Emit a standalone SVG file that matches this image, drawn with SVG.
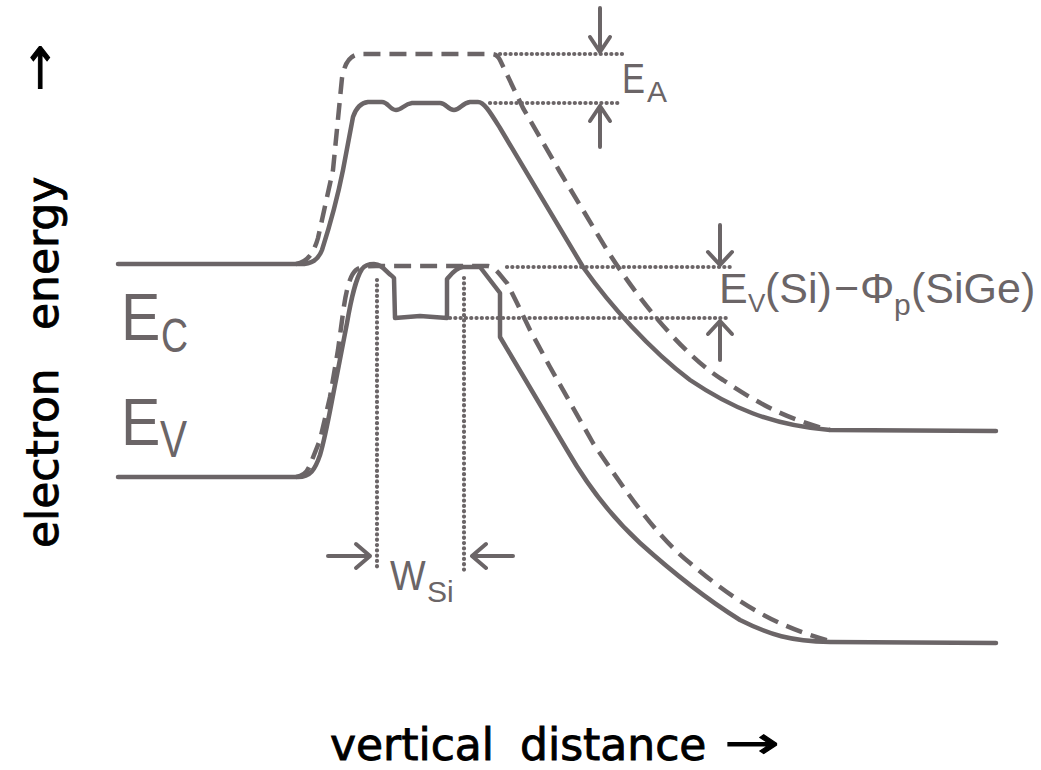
<svg xmlns="http://www.w3.org/2000/svg" width="1041" height="770" viewBox="0 0 1041 770">
<style>
.solid{fill:none;stroke:#6b6567;stroke-width:4.5;stroke-linejoin:round;stroke-linecap:round}
.dash{fill:none;stroke:#6b6567;stroke-width:4.5;stroke-dasharray:17 9;stroke-linecap:butt;stroke-linejoin:round}
.dot{fill:none;stroke:#6b6567;stroke-width:4.2;stroke-dasharray:0.1 5.2;stroke-linecap:round}
.arr{fill:none;stroke:#6b6567;stroke-width:4;stroke-linecap:round;stroke-linejoin:round}
.lbl{font-family:"Liberation Sans","DejaVu Sans",sans-serif;fill:#6b6567}
.ax{font-family:"DejaVu Sans","Liberation Sans",sans-serif;fill:#000;stroke:#000;stroke-width:0.9;font-size:44px}
.axa{font-family:"DejaVu Sans","Liberation Sans",sans-serif;fill:#000;stroke:#000;stroke-width:1;font-size:44px}
</style>
<rect width="1041" height="770" fill="#fff"/>
<g id="conduction-band">
<path class="solid" d="M118,264 L300,264 C312,264 318,260 322,250 C330,225 338,195 343,170 L353,117 C356,108 360,103 368,102 L382,102 C388,102 390,110 396,110 C402,110 404,104 412,103 L440,103 C446,103 448,110 454,110 C460,110 462,103 470,102 L478,102 C484,102 490,112 500,128 L583,267 C610,305 650,350 690,380 C730,407 770,425 830,430 L996,431"/>
<path class="dash" d="M296,264 C308,262 314,252 318,238 L333,170 L342,78 C345,62 350,55 360,54 L490,54 C496,54 498,56 500,60 L523,108 L560,172 L607,250 C645,310 690,360 723,380 C760,405 790,420 830,430"/>
</g>
<g id="valence-band">
<path class="solid" d="M118,477 L298,477 C310,477 315,470 320,455 C326,435 330,410 336,380 L347,323 C351,300 355,280 362,269 C365,265 368,264 374,264 C382,264 386,272 392,276 L394,278 L395,318 L420,316 L447,318 L447,279 C450,276 455,268 463,267 L480,267 L500,293 L500,337 L567,450 C590,490 615,520 640,543 C670,570 700,595 740,620 C770,635 790,641 830,642 L996,643"/>
<path class="dash" d="M296,477 C305,476 308,470 310,465 L320,440 L330,397 L338,350 L343,313 C346,290 350,275 356,270 C360,267 366,266 376,266 L488,266 C496,267 502,278 507,283 L517,303 L530,330 L550,367 L593,443 C625,490 655,535 690,563 C730,597 770,625 830,641"/>
</g>
<g id="connectors">
<path class="dot" d="M500,54 L622,54"/>
<path class="dot" d="M490,103 L620,103"/>
<path class="dot" d="M507,267 L730,267"/>
<path class="dot" d="M450,318 L730,318"/>
<path class="dot" d="M377,280 L377,570"/>
<path class="dot" d="M464,278 L464,570"/>
<path class="arr" d="M600,8 L600,52 M590,37 L600,52 L610,37"/>
<path class="arr" d="M600,147 L600,106 M590,121 L600,106 L610,121"/>
<path class="arr" d="M720,225 L720,265 M708,252 L720,265 L732,252"/>
<path class="arr" d="M720,360 L720,321 M708,334 L720,321 L732,334"/>
<path class="arr" d="M328,556 L370,556 M356,544 L370,556 L356,568"/>
<path class="arr" d="M513,556 L472,556 M486,544 L472,556 L486,568"/>
</g>
<g id="label-EA">
<text class="lbl" transform="translate(622,93) scale(0.8,1)" font-size="43">E</text>
<text class="lbl" x="647" y="102" font-size="30">A</text>
</g>
<g id="label-offset">
<text class="lbl" x="719" y="303" font-size="43">E</text>
<text class="lbl" x="748" y="312" font-size="26">V</text>
<text class="lbl" x="765" y="303" font-size="43">(Si)</text>
<text class="lbl" x="834" y="303" font-size="43">−</text>
<text class="lbl" x="860" y="303" font-size="43">Φ</text>
<text class="lbl" x="894" y="315" font-size="30">p</text>
<text class="lbl" x="911" y="303" font-size="43">(SiGe)</text>
</g>
<g id="label-EC">
<text class="lbl" transform="translate(121,340) scale(0.88,1)" font-size="67">E</text>
<text class="lbl" transform="translate(161,352) scale(0.78,1)" font-size="48">C</text>
</g>
<g id="label-EV">
<text class="lbl" transform="translate(121,445) scale(0.88,1)" font-size="67">E</text>
<text class="lbl" transform="translate(160,457) scale(0.78,1)" font-size="52">V</text>
</g>
<g id="label-WSi">
<text class="lbl" transform="translate(390,590) scale(0.9,1)" font-size="42">W</text>
<text class="lbl" x="427" y="602" font-size="30">Si</text>
</g>
<g id="axis-labels">
<text class="ax" x="330" y="760">vertical</text>
<text class="ax" x="520" y="760">distance</text>
<text class="axa" transform="translate(724,758) scale(1.5,1)">→</text>
<g transform="translate(58,548) rotate(-90)">
<text class="ax" x="0" y="0" font-size="48">electron</text>
<text class="ax" x="218" y="0" font-size="48">energy</text>
<text class="axa" transform="translate(456,-4) scale(1.3,1)">→</text>
</g>
</g>
</svg>
